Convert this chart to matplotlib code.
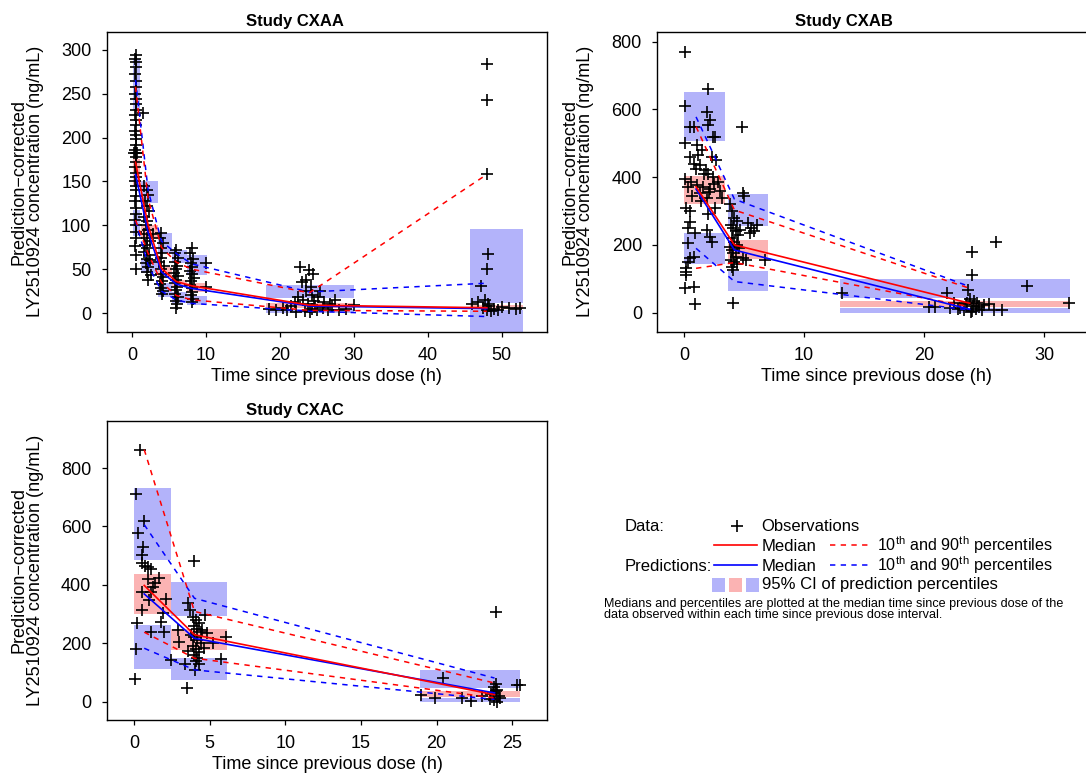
import matplotlib

matplotlib.use("Agg")
import matplotlib.pyplot as plt

plt.rcParams["font.family"] = ["Liberation Sans", "DejaVu Sans"]
plt.rcParams["mathtext.fontset"] = "custom"
plt.rcParams["mathtext.rm"] = "Liberation Sans"
plt.rcParams["mathtext.it"] = "Liberation Sans:italic"
plt.rcParams["mathtext.bf"] = "Liberation Sans:bold"

W, H = 1086, 776
RED = "#ff0000"
BLUE = "#0000ff"
SHADE_BLUE = "#b3b3fa"
SHADE_RED = "#fbb3b3"
DASH = (0, (3.5, 3.5))

YLABEL_1 = "Prediction\u2212corrected"
YLABEL_2 = "LY2510924 concentration (ng/mL)"
XLABEL = "Time since previous dose (h)"

# ---- Study CXAA ----
cxaa_obs = [
    (0.5, 294), (0.4, 290), (0.6, 286), (0.5, 280), (0.4, 272), (0.5, 265), (0.6, 258), (0.4, 250),
    (0.5, 244), (0.5, 238), (0.6, 232), (0.4, 226), (0.5, 220), (0.6, 214), (0.4, 208), (0.5, 203),
    (0.5, 198), (0.6, 192), (0.4, 186), (0.5, 183), (0.3, 183), (0.7, 182), (0.5, 178), (0.6, 172),
    (0.4, 166), (0.5, 160), (0.6, 155), (0.4, 150), (0.5, 145), (0.5, 140), (0.6, 134), (0.4, 128),
    (0.5, 120), (0.6, 113), (0.4, 106), (0.5, 100), (0.5, 92), (0.6, 85), (0.4, 76), (0.5, 66),
    (0.5, 50), (1.5, 228),
    (1.6, 145), (2.0, 140), (2.2, 135), (1.8, 128), (2.0, 122), (2.3, 116), (1.7, 110), (2.1, 105),
    (1.9, 100), (2.2, 95), (1.6, 90), (2.0, 86), (2.4, 82), (1.8, 78), (2.1, 74), (1.7, 70),
    (2.3, 66), (2.0, 62), (1.9, 57), (2.2, 52), (2.0, 47), (2.6, 43), (2.2, 38), (2.8, 90), (2.5, 60),
    (4.0, 91), (3.8, 85), (4.2, 80), (3.9, 74), (4.1, 68), (4.0, 63), (3.7, 58), (4.3, 54),
    (4.0, 50), (3.9, 45), (4.2, 41), (4.1, 37), (3.8, 33), (4.0, 29), (4.2, 25), (4.1, 22),
    (6.0, 72), (5.8, 68), (6.2, 63), (5.9, 58), (6.1, 54), (6.0, 50), (5.7, 46), (6.3, 42),
    (6.0, 38), (5.9, 34), (6.1, 30), (6.0, 26), (5.8, 22), (6.2, 18), (6.0, 14), (6.1, 10), (6.0, 6),
    (8.1, 74), (7.9, 68), (8.3, 62), (8.0, 57), (8.2, 52), (7.8, 48), (8.1, 44), (8.4, 40),
    (8.0, 36), (7.9, 32), (8.2, 28), (8.1, 24), (8.0, 20), (8.3, 16), (8.1, 12),
    (10.0, 57), (10.0, 30),
    (18.5, 5), (19.5, 3), (20.5, 6), (21.0, 4), (21.5, 8), (22.0, 12), (22.5, 18), (22.8, 53),
    (23.2, 15), (23.5, 25), (23.8, 10), (24.0, 49), (24.2, 30), (24.3, 20), (24.4, 5), (24.5, 44),
    (24.6, 14), (24.8, 8), (25.0, 3), (25.2, 18), (25.5, 25), (25.8, 6), (26.0, 12), (26.5, 4),
    (27.0, 8), (27.5, 15), (28.0, 3), (29.0, 5), (30.0, 9), (23.0, 35), (23.6, 38), (24.1, 1),
    (23.4, 2), (22.2, 1), (26.8, 10),
    (48.05, 284), (48.05, 243), (48.05, 158), (48.1, 67), (48.05, 50), (47.2, 31), (46.0, 10),
    (46.8, 12), (47.5, 6), (48.0, 3), (48.3, 8), (48.6, 2), (49.0, 5), (49.5, 4), (50.0, 7),
    (51.0, 6), (52.0, 5), (52.5, 6), (47.8, 15), (48.2, 10),
]
cxaa_tmid = [0.5, 2.2, 4.0, 6.0, 8.1, 24.0, 48.0]
cxaa_obs_med = [172, 100, 51, 36, 31, 9, 6]
cxaa_obs_p10 = [106, 68, 35, 20, 15, 3, 2]
cxaa_obs_p90 = [258, 130, 75, 58, 50, 23, 158]
cxaa_pred_med = [158, 92, 47, 33, 28, 8, 5]
cxaa_pred_p10 = [105, 55, 25, 15, 11, 2, -4]
cxaa_pred_p90 = [266, 140, 82, 68, 56, 24, 34]
cxaa_bin_lo = [0.1, 1.2, 3.6, 5.4, 7.5, 18.1, 45.7]
cxaa_bin_hi = [1.1, 3.5, 5.4, 7.5, 10.2, 30.0, 52.9]
cxaa_ci_p90 = [(232, 290), (126, 150), (68, 91), (57, 72), (43, 66), (17, 32), (11, 96)]
cxaa_ci_med = [(145, 176), (84, 100), (42, 53), (30, 38), (24, 34), (6, 11), (5, 9)]
cxaa_ci_p10 = [(88, 118), (46, 62), (18, 34), (11, 24), (9, 19), (0, 5), (-30, 4)]

# ---- Study CXAB ----
cxab_obs = [
    (0.08, 769), (2.0, 660), (0.08, 610), (1.9, 591), (0.5, 547), (0.8, 547), (2.2, 569), (2.0, 555),
    (2.4, 520), (2.6, 520), (0.08, 502), (1.06, 495), (0.5, 461), (1.2, 466), (2.3, 461), (1.5, 480),
    (0.8, 440), (1.3, 435), (1.0, 425), (1.8, 420), (2.0, 410), (2.4, 400), (0.08, 394), (0.36, 372),
    (0.6, 385), (1.1, 378), (1.6, 370), (2.2, 365), (2.5, 380), (2.8, 385), (3.2, 340), (1.3, 352),
    (0.7, 345), (1.9, 340), (2.1, 355), (0.2, 308), (0.5, 300), (1.4, 330), (0.5, 269), (2.0, 290),
    (0.36, 249), (0.9, 234), (1.9, 244), (2.2, 224), (2.3, 210), (0.36, 205), (0.5, 160), (0.8, 165),
    (0.3, 150), (0.2, 131), (0.2, 111), (0.15, 120), (0.08, 72), (0.8, 77), (0.9, 25), (2.6, 310),
    (3.0, 360), (1.7, 410), (2.7, 450),
    (4.8, 549), (4.9, 352), (5.0, 345), (4.1, 28), (6.75, 155), (6.1, 259), (5.3, 265), (5.6, 250),
    (5.8, 240), (3.8, 320), (4.0, 300), (4.2, 280), (4.4, 270), (3.9, 260), (4.1, 250), (4.3, 240),
    (4.5, 230), (4.0, 220), (4.2, 210), (4.4, 200), (3.8, 195), (4.0, 185), (4.1, 175), (4.3, 165),
    (3.9, 155), (4.2, 150), (4.4, 145), (4.0, 135), (4.1, 125), (4.6, 190), (4.9, 160), (5.2, 155),
    (4.7, 245), (5.5, 235),
    (13.2, 59), (24.0, 180), (26.0, 209), (24.0, 111), (28.6, 79), (32.1, 28), (23.7, 67), (21.9, 57),
    (20.4, 18), (20.9, 18), (22.5, 30), (23.0, 15), (23.3, 8), (23.5, 25), (23.8, 40), (24.0, 5),
    (24.1, 20), (24.2, 35), (24.3, 12), (24.4, 28), (24.6, 18), (24.8, 8), (25.0, 22), (22.8, 10),
    (23.9, 2), (25.4, 27), (25.8, 8), (26.5, 8), (22.2, 15), (23.6, 30),
]
cxab_tmid = [1.0, 4.2, 23.8]
cxab_obs_med = [372, 200, 28]
cxab_obs_p10 = [131, 148, 18]
cxab_obs_p90 = [549, 303, 72]
cxab_pred_med = [365, 185, 10]
cxab_pred_p10 = [190, 92, 8]
cxab_pred_p90 = [578, 335, 77]
cxab_bin_lo = [0.0, 3.7, 13.0]
cxab_bin_hi = [3.4, 7.0, 32.2]
cxab_ci_p90 = [(508, 652), (257, 350), (42, 100)]
cxab_ci_med = [(321, 403), (158, 214), (18, 34)]
cxab_ci_p10 = [(143, 234), (65, 124), (0, 13)]

# ---- Study CXAC ----
cxac_obs = [
    (0.39, 863), (0.11, 712), (0.68, 619), (0.28, 577), (0.57, 531), (0.5, 503), (0.5, 474),
    (0.72, 465), (0.94, 460), (1.16, 454), (1.67, 423), (1.27, 394), (1.16, 377), (0.5, 377),
    (1.0, 349), (2.15, 351), (0.5, 314), (1.93, 303), (0.22, 271), (1.82, 274), (1.16, 240),
    (2.0, 238), (0.13, 179), (2.43, 143), (0.07, 77), (0.9, 420), (1.4, 405),
    (3.36, 129), (4.06, 109), (3.5, 46), (4.0, 480), (5.77, 145), (6.1, 223), (5.2, 202), (3.0, 206),
    (2.9, 246), (3.6, 337), (3.7, 314), (4.67, 297), (3.9, 290), (4.1, 280), (4.3, 270), (4.0, 260),
    (4.2, 250), (4.4, 240), (3.8, 230), (4.0, 220), (4.2, 210), (4.4, 200), (3.9, 190), (4.1, 180),
    (4.3, 170), (4.0, 160), (4.2, 150), (4.1, 140), (4.3, 130), (4.5, 245), (4.8, 235), (3.6, 175),
    (4.6, 185),
    (23.9, 307), (20.4, 81), (25.3, 58), (25.5, 58), (19.0, 24), (19.9, 13), (21.7, 13), (22.3, 1),
    (23.0, 18), (23.5, 10), (23.7, 30), (23.8, 50), (23.9, 60), (24.0, 40), (24.1, 20), (23.8, 5),
    (24.0, 0), (23.6, 25), (24.2, 12), (23.9, 35),
]
cxac_tmid = [0.68, 4.0, 23.83]
cxac_obs_med = [398, 229, 24]
cxac_obs_p10 = [238, 149, 13]
cxac_obs_p90 = [863, 309, 64]
cxac_pred_med = [369, 217, 30]
cxac_pred_p10 = [183, 109, 8]
cxac_pred_p90 = [606, 354, 81]
cxac_bin_lo = [0.0, 2.48, 18.9]
cxac_bin_hi = [2.48, 6.16, 25.5]
cxac_ci_p90 = [(486, 731), (294, 410), (47, 110)]
cxac_ci_med = [(301, 438), (177, 249), (16, 38)]
cxac_ci_p10 = [(112, 263), (74, 149), (-1, 13)]


def add_axes_px(fig, left, top, right, bottom):
    return fig.add_axes([left / W, 1 - bottom / H, (right - left) / W, (bottom - top) / H])


def draw_panel(ax, obs, tmid, obs_stats, pred_stats, bin_lo, bin_hi, cis):
    widths = [hi - lo for lo, hi in zip(bin_lo, bin_hi)]
    for ci, colour in zip(cis, (SHADE_BLUE, SHADE_RED, SHADE_BLUE)):
        ax.bar(bin_lo, [hi - lo for lo, hi in ci], width=widths, bottom=[lo for lo, _ in ci],
               align="edge", color=colour, linewidth=0, zorder=1)
    t, c = zip(*obs)
    ax.plot(t, c, linestyle="none", marker="+", markersize=8.5, markeredgewidth=1.2,
            color="black", zorder=2)
    for stats, colour in ((pred_stats, BLUE), (obs_stats, RED)):
        med, p10, p90 = stats
        ax.plot(tmid, med, color=colour, lw=1.2, zorder=4)
        ax.plot(tmid, p10, color=colour, lw=1.1, linestyle=DASH, zorder=3)
        ax.plot(tmid, p90, color=colour, lw=1.1, linestyle=DASH, zorder=3)


def style_axes(ax, xlim, ylim, xticks, yticks):
    ax.set_xlim(*xlim)
    ax.set_ylim(*ylim)
    ax.set_xticks(xticks)
    ax.set_yticks(yticks)
    ax.tick_params(direction="out", length=3.6, width=0.9, labelsize=13, pad=7.5, colors="black")
    for spine in ax.spines.values():
        spine.set_linewidth(1.0)


def main() -> None:
    fig = plt.figure(figsize=(W / 100, H / 100), dpi=100)

    panels = [
        ("Study CXAA", (106.7, 31.7, 546.7, 331.7), 295, (-3.4, 56.1), (-21.3, 320.8),
         range(0, 51, 10), range(0, 301, 50), cxaa_obs, cxaa_tmid,
         (cxaa_obs_med, cxaa_obs_p10, cxaa_obs_p90), (cxaa_pred_med, cxaa_pred_p10, cxaa_pred_p90),
         cxaa_bin_lo, cxaa_bin_hi, (cxaa_ci_p90, cxaa_ci_med, cxaa_ci_p10)),
        ("Study CXAB", (657.3, 31.7, 1095.0, 331.7), 844, (-2.23, 34.25), (-56.1, 829.5),
         range(0, 31, 10), range(0, 801, 200), cxab_obs, cxab_tmid,
         (cxab_obs_med, cxab_obs_p10, cxab_obs_p90), (cxab_pred_med, cxab_pred_p10, cxab_pred_p90),
         cxab_bin_lo, cxab_bin_hi, (cxab_ci_p90, cxab_ci_med, cxab_ci_p10)),
        ("Study CXAC", (106.7, 420.7, 547.3, 720.0), 295, (-1.80, 27.32), (-62.6, 962.0),
         range(0, 26, 5), range(0, 801, 200), cxac_obs, cxac_tmid,
         (cxac_obs_med, cxac_obs_p10, cxac_obs_p90), (cxac_pred_med, cxac_pred_p10, cxac_pred_p90),
         cxac_bin_lo, cxac_bin_hi, (cxac_ci_p90, cxac_ci_med, cxac_ci_p10)),
    ]

    for (title, box, title_x, xlim, ylim, xticks, yticks, obs, tmid, obs_stats, pred_stats,
         bin_lo, bin_hi, cis) in panels:
        left, top, right, bottom = box
        ax = add_axes_px(fig, left, top, right, bottom)
        draw_panel(ax, obs, tmid, obs_stats, pred_stats, bin_lo, bin_hi, cis)
        style_axes(ax, xlim, ylim, xticks, yticks)
        fig.text(title_x / W, 1 - (top - 5.5) / H, title, ha="center", va="baseline",
                 fontsize=12, fontweight="bold")
        xcentre = (left + right) / 2
        fig.text(xcentre / W, 1 - (bottom + 49) / H, XLABEL, ha="center", va="baseline", fontsize=13)
        ycentre = (top + bottom) / 2
        for text, offset in ((YLABEL_1, 83.0), (YLABEL_2, 67.0)):
            fig.text((left - offset) / W, 1 - ycentre / H, text, rotation=90,
                     rotation_mode="anchor", ha="center", va="baseline", fontsize=13)

    # legend block, drawn in pixel coordinates
    lg = fig.add_axes([0, 0, 1, 1])
    lg.set_xlim(0, W)
    lg.set_ylim(H, 0)
    lg.axis("off")
    fs = 12
    lg.text(625, 531, "Data:", fontsize=fs, va="baseline")
    lg.plot([736.7], [525.7], marker="+", markersize=8.5, markeredgewidth=1.2, color="black")
    lg.text(761.7, 531, "Observations", fontsize=fs, va="baseline")
    pct = "10$^{\\mathrm{th}}$ and 90$^{\\mathrm{th}}$ percentiles"
    for y, colour in ((545, RED), (565, BLUE)):
        lg.plot([714.3, 756.7], [y, y], color=colour, lw=1.2)
        lg.plot([830, 868.3], [y, y], color=colour, lw=1.1, linestyle=DASH)
        lg.text(761.7, y + 5.7, "Median", fontsize=fs, va="baseline")
        lg.text(876.7, y + 5.7, pct, fontsize=11.6, va="baseline")
    lg.text(625, 570.7, "Predictions:", fontsize=fs, va="baseline")
    for x0, x1, colour in ((711.7, 725, SHADE_BLUE), (729, 741.7, SHADE_RED), (746, 759.3, SHADE_BLUE)):
        lg.fill_between([x0, x1], [577.7, 577.7], [591.7, 591.7], color=colour, linewidth=0)
    lg.text(761.7, 589.5, "95% CI of prediction percentiles", fontsize=fs, va="baseline")
    note_fs = 9.1
    lg.text(604.3, 606.7, "Medians and percentiles are plotted at the median time since previous dose of the",
            fontsize=note_fs, va="baseline")
    lg.text(604.3, 618.2, "data observed within each time since previous dose interval.",
            fontsize=note_fs, va="baseline")

    fig.savefig("out.png", dpi=100)


if __name__ == "__main__":
    main()
